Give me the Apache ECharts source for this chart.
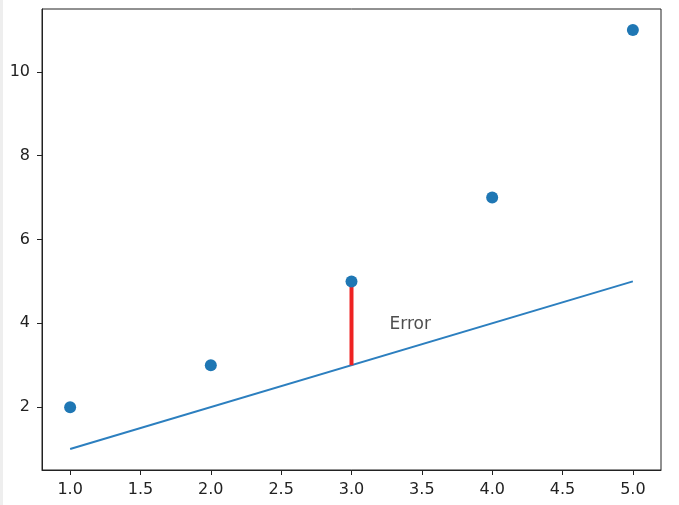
<!DOCTYPE html>
<html lang="en">

<head>
    <meta charset="UTF-8">
    <title>Error</title>
    <style>
        * {
            margin: 0;
            padding: 0;
        }

        body {
            background: #fff;
        }

        .box {
            width: 679px;
            height: 505px;
            border-left: 3px solid #eeeeee;
            box-sizing: border-box;
        }
    </style>
</head>

<body>
    <div class="box"></div>

    <script src="https://cdnjs.cloudflare.com/ajax/libs/echarts/6.0.0/echarts.min.js"></script>
    <script>
        var pointX = [1, 2, 3, 4, 5];
        var pointY = [2, 3, 5, 7, 11];
        var lineX = [1, 5];
        var lineY = [1, 5];
        var errorX = [3, 3];
        var errorY = [3, 5];
        var labelPos = [3.27, 3.76];
        var xTicks = [1.0, 1.5, 2.0, 2.5, 3.0, 3.5, 4.0, 4.5, 5.0];
        var yTicks = [2, 4, 6, 8, 10];

        var myChart = echarts.init(document.querySelector('.box'));

        function pairs(xs, ys) {
            return xs.map(function (x, i) {
                return [x, ys[i]];
            });
        }

        var tickFont = {
            color: '#222',
            fontSize: 16,
            fontFamily: 'DejaVu Sans'
        };

        var option = {
            animation: false,
            grid: {
                left: 39,
                right: 18,
                top: 9,
                bottom: 35,
                show: true,
                borderColor: '#222',
                borderWidth: 1
            },
            xAxis: {
                type: 'value',
                min: 0.8,
                max: 5.2,
                splitLine: { show: false },
                axisLine: { show: true, lineStyle: { color: '#222' } },
                axisTick: {
                    show: true,
                    length: 5,
                    customValues: xTicks,
                    lineStyle: { color: '#222' }
                },
                axisLabel: Object.assign({
                    margin: 12,
                    customValues: xTicks,
                    formatter: function (v) { return v.toFixed(1); }
                }, tickFont)
            },
            yAxis: {
                type: 'value',
                min: 0.5,
                max: 11.5,
                splitLine: { show: false },
                axisLine: { show: true, lineStyle: { color: '#222' } },
                axisTick: {
                    show: true,
                    length: 5,
                    customValues: yTicks,
                    lineStyle: { color: '#222' }
                },
                axisLabel: Object.assign({
                    margin: 12,
                    customValues: yTicks
                }, tickFont)
            },
            series: [{
                type: 'line',
                data: pairs(lineX, lineY),
                symbol: 'none',
                lineStyle: { color: '#2c7fbf', width: 2 },
                z: 2
            }, {
                type: 'line',
                data: pairs(errorX, errorY),
                symbol: 'none',
                lineStyle: { color: '#ee2222', width: 4 },
                z: 3
            }, {
                type: 'scatter',
                data: pairs(pointX, pointY),
                symbolSize: 12,
                itemStyle: { color: '#1f77b4', opacity: 1 },
                z: 4
            }, {
                type: 'scatter',
                data: [labelPos],
                symbolSize: 0,
                silent: true,
                label: {
                    show: true,
                    position: [0, 0],
                    align: 'left',
                    verticalAlign: 'bottom',
                    formatter: 'Error',
                    color: '#222',
                    fontSize: 17,
                    fontFamily: 'DejaVu Sans'
                },
                z: 5
            }]
        };

        myChart.setOption(option);
    </script>
</body>

</html>
